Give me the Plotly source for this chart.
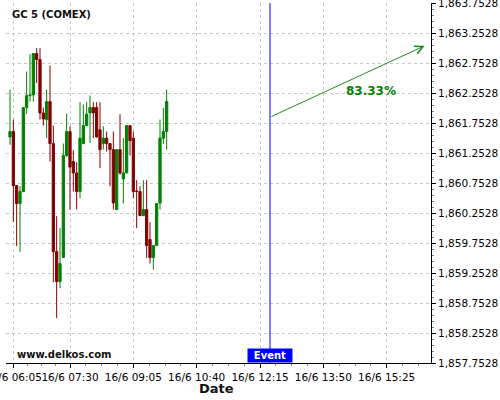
import plotly.graph_objects as go
import pandas as pd

# ---- data ----
times = pd.date_range("2023-06-16 06:00", periods=48, freq="5min")
opens = [1861.52, 1861.61, 1860.71, 1860.41, 1860.61, 1862.01, 1862.21, 1862.22, 1862.91, 1862.81,
         1861.92, 1861.81, 1862.11, 1861.41, 1859.61, 1859.11, 1859.51, 1861.21, 1861.61, 1861.11,
         1860.92, 1860.61, 1861.41, 1861.71, 1861.92, 1862.01, 1862.01, 1861.64, 1861.41, 1861.50,
         1861.41, 1861.31, 1860.31, 1861.31, 1860.82, 1860.92, 1861.71, 1861.50, 1860.62, 1860.61,
         1860.21, 1860.31, 1859.81, 1859.51, 1859.71, 1860.42, 1861.50, 1861.61]
highs = [1862.31, 1861.81, 1860.71, 1860.70, 1862.01, 1862.61, 1862.90, 1862.91, 1863.00, 1863.00,
         1862.01, 1862.31, 1862.71, 1861.71, 1860.20, 1860.00, 1861.41, 1861.91, 1861.70, 1861.30,
         1861.10, 1862.10, 1862.06, 1862.10, 1862.21, 1862.10, 1862.10, 1862.10, 1861.70, 1861.61,
         1861.41, 1861.61, 1861.31, 1861.90, 1861.50, 1861.71, 1861.71, 1861.61, 1860.80, 1860.70,
         1860.80, 1860.80, 1860.10, 1859.71, 1860.41, 1861.81, 1862.00, 1862.31]
lows = [1861.39, 1860.10, 1859.70, 1859.60, 1860.60, 1861.90, 1862.11, 1862.11, 1862.42, 1861.81,
        1861.71, 1861.50, 1861.11, 1859.10, 1858.50, 1859.00, 1859.50, 1861.19, 1860.31, 1860.61,
        1860.31, 1860.50, 1861.40, 1861.70, 1861.42, 1861.50, 1861.51, 1861.00, 1861.31, 1861.28,
        1860.70, 1860.31, 1860.30, 1860.89, 1860.41, 1860.92, 1861.21, 1860.50, 1860.00, 1860.20,
        1860.20, 1859.50, 1859.41, 1859.31, 1859.71, 1860.31, 1861.40, 1861.31]
closes = [1861.61, 1860.71, 1860.41, 1860.61, 1862.01, 1862.21, 1862.22, 1862.91, 1862.81, 1861.92,
          1861.82, 1862.11, 1861.41, 1859.61, 1859.11, 1859.41, 1861.21, 1861.61, 1861.02, 1860.92,
          1860.61, 1861.50, 1861.71, 1861.90, 1862.01, 1861.92, 1861.52, 1861.31, 1861.50, 1861.41,
          1861.31, 1860.42, 1861.31, 1860.92, 1860.92, 1861.71, 1861.46, 1860.61, 1860.61, 1860.21,
          1860.31, 1859.71, 1859.51, 1859.71, 1860.41, 1861.50, 1861.61, 1862.11]

y_ticks = [1857.7528, 1858.2528, 1858.7528, 1859.2528, 1859.7528, 1860.2528, 1860.7528,
           1861.2528, 1861.7528, 1862.2528, 1862.7528, 1863.2528, 1863.7528]
y_tick_labels = ["1,857.7528", "1,858.2528", "1,858.7528", "1,859.2528", "1,859.7528",
                 "1,860.2528", "1,860.7528", "1,861.2528", "1,861.7528", "1,862.2528",
                 "1,862.7528", "1,863.2528", "1,863.7528"]
x_ticks = ["2023-06-16 06:05", "2023-06-16 07:30", "2023-06-16 09:05", "2023-06-16 10:40",
           "2023-06-16 12:15", "2023-06-16 13:50", "2023-06-16 15:25"]
x_tick_labels = ["16/6 06:05", "16/6 07:30", "16/6 09:05", "16/6 10:40",
                 "16/6 12:15", "16/6 13:50", "16/6 15:25"]
x_range = ["2023-06-16 05:54:00", "2023-06-16 16:31:30"]

event_time = "2023-06-16 12:30"
arrow_start = ("2023-06-16 12:30", 1861.85)
arrow_end = ("2023-06-16 16:22", 1863.04)
pct_label = "83.33%"
pct_pos = ("2023-06-16 15:02", 1862.29)
title_text = "GC 5 (COMEX)"
site_text = "www.delkos.com"

# minor x ticks between majors (quarters)
xt = pd.to_datetime(x_ticks)
minor_x = []
for a, b in zip(xt[:-1], xt[1:]):
    for k in range(1, 4):
        minor_x.append(a + (b - a) * k / 4)
minor_x.append(xt[-1] + (xt[-1] - xt[-2]) / 4)
minor_x.append(xt[-1] + (xt[-1] - xt[-2]) / 2)
minor_x.append(xt[0] - (xt[1] - xt[0]) / 4)

GREEN = "#008000"
RED = "#800000"
FONT = "DejaVu Sans"

fig = go.Figure()
fig.add_trace(go.Candlestick(
    x=times, open=opens, high=highs, low=lows, close=closes,
    increasing=dict(line=dict(color=GREEN, width=1), fillcolor=GREEN),
    decreasing=dict(line=dict(color=RED, width=1), fillcolor=RED),
    whiskerwidth=0, showlegend=False, hoverinfo="skip",
))

fig.add_shape(type="line", xref="x", yref="paper", x0=event_time, x1=event_time, y0=0, y1=1,
              line=dict(color="#0000ff", width=1))

fig.add_annotation(x=arrow_end[0], y=arrow_end[1], ax=arrow_start[0], ay=arrow_start[1],
                   xref="x", yref="y", axref="x", ayref="y", text="", showarrow=True,
                   arrowhead=5, arrowsize=1.6, arrowwidth=1, arrowcolor="#228B22")
fig.add_annotation(x=pct_pos[0], y=pct_pos[1], xref="x", yref="y", text="<b>" + pct_label + "</b>",
                   showarrow=False, font=dict(family=FONT, size=12, color="#008000"))
fig.add_annotation(x=event_time, y=0, xref="x", yref="paper", yanchor="bottom", text="<b>Event</b>",
                   showarrow=False, bgcolor="#0000ff", borderpad=1,
                   font=dict(family=FONT, size=10, color="white"), width=42)
fig.add_annotation(x=0.0094, y=0.967, xref="paper", yref="paper", xanchor="left", yanchor="middle",
                   text="<b>" + title_text + "</b>", showarrow=False,
                   font=dict(family=FONT, size=10, color="#111111"))
fig.add_annotation(x=0.021, y=0.025, xref="paper", yref="paper", xanchor="left", yanchor="middle",
                   text="<b>" + site_text + "</b>", showarrow=False,
                   font=dict(family=FONT, size=10, color="#111111"))
fig.add_annotation(x=0.496, y=-0.072, xref="paper", yref="paper", xanchor="center", yanchor="middle",
                   text="<b>Date</b>", showarrow=False,
                   font=dict(family=FONT, size=13, color="#111111"))

fig.update_layout(
    width=500, height=400,
    margin=dict(l=6, r=69, t=3, b=37),
    paper_bgcolor="white", plot_bgcolor="white",
    font=dict(family=FONT, size=10.5, color="black"),
    boxgap=0.05,
    xaxis=dict(
        type="date", range=x_range, rangeslider=dict(visible=False),
        tickmode="array", tickvals=x_ticks, ticktext=x_tick_labels, tickangle=0,
        showgrid=True, gridcolor="#c8c8c8", griddash="3px,3px", gridwidth=1,
        showline=True, linecolor="black", linewidth=1,
        ticks="outside", ticklen=4, tickcolor="black",
        minor=dict(tickvals=minor_x, ticks="outside", ticklen=2, tickcolor="#888", showgrid=False),
        zeroline=False, tickfont=dict(size=10.5), ticklabeloverflow="allow", automargin=False,
    ),
    yaxis=dict(
        side="right", range=[1857.7528, 1863.7528],
        tickmode="array", tickvals=y_ticks, ticktext=y_tick_labels,
        showgrid=True, gridcolor="#c8c8c8", griddash="3px,3px", gridwidth=1,
        showline=True, linecolor="black", linewidth=1,
        ticks="outside", ticklen=4, tickcolor="black",
        minor=dict(tick0=1857.7528, dtick=0.1, ticks="outside", ticklen=2, tickcolor="#888", showgrid=False),
        zeroline=False, tickfont=dict(size=10.5), ticklabeloverflow="allow", automargin=False,
    ),
)

fig.write_html("out.html", config={"displayModeBar": False},
               post_script="document.body.style.margin='0';document.body.style.padding='0';")
